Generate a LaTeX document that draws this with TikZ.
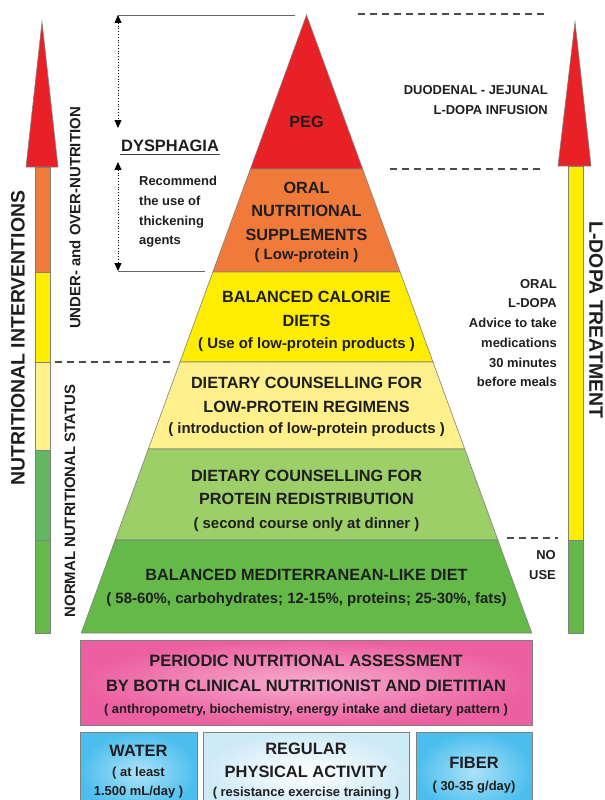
\documentclass[tikz,border=0pt]{standalone}
\usepackage{fontspec}
\setmainfont{Liberation Sans}
\usetikzlibrary{arrows.meta}

\definecolor{pegred}{RGB}{232,33,39}
\definecolor{supporange}{RGB}{240,122,58}
\definecolor{calyellow}{RGB}{255,237,0}
\definecolor{lowyellow}{RGB}{255,240,140}
\definecolor{redgreen}{RGB}{157,207,105}
\definecolor{medgreen}{RGB}{100,185,72}
\definecolor{arrowgreen}{RGB}{98,184,98}
\definecolor{pinkdark}{RGB}{236,95,160}
\definecolor{pinklight}{RGB}{247,172,206}
\definecolor{bluedark}{RGB}{75,190,238}
\definecolor{bluelight}{RGB}{172,226,248}
\definecolor{paleblue}{RGB}{205,234,247}
\definecolor{textgray}{RGB}{30,30,30}

\tikzset{
  pyramid/.style={
    every node/.style={text=textgray, inner sep=1pt},
    levelhead/.style={font=\fontsize{16.3}{23.5}\selectfont\bfseries, align=center},
    levelsub/.style={font=\fontsize{15}{17}\selectfont\bfseries},
    sidetext/.style={font=\fontsize{13}{19.8}\selectfont\bfseries},
    vertlabel/.style={font=\fontsize{19.5}{22}\selectfont\bfseries},
    statuslabel/.style={font=\fontsize{15}{18}\selectfont\bfseries, rotate=90},
    sepline/.style={dash pattern=on 7pt off 5pt, line width=1.3pt, black!70},
    outline/.style={draw=black!50, line width=0.6pt},
  }
}

\begin{document}
\begin{tikzpicture}[pyramid, x=1bp, y=-1bp]
  \tikzstyle{bracket}=[dotted, line width=0.8pt, {Triangle[width=7pt,length=8pt]}-{Triangle[width=7pt,length=8pt]}]
  \clip (0,0) rectangle (605,800);

  \foreach \ya/\yb/\col in {15/169/pegred, 169/272/supporange, 272/362/calyellow,
                            362/449/lowyellow, 449/540/redgreen, 540/633/medgreen}
    \filldraw[fill=\col, outline] ({306.5-(\ya-15)*0.3645},\ya) -- ({306.5+(\ya-15)*0.3645},\ya)
      -- ({306.5+(\yb-15)*0.3645},\yb) -- ({306.5-(\yb-15)*0.3645},\yb) -- cycle;

  \foreach \ya/\yb/\col in {167/272/supporange, 272/362/calyellow, 362/450/lowyellow,
                            450/540/arrowgreen, 540/633/medgreen}
    \filldraw[fill=\col, outline] (35,\ya) rectangle (50,\yb);
  \filldraw[fill=pegred, outline] (26,167) -- (42,22) -- (58,167) -- cycle;

  \filldraw[fill=calyellow, outline] (568,166) rectangle (583,540);
  \filldraw[fill=medgreen, outline] (568,540) rectangle (583,633);
  \filldraw[fill=pegred, outline] (558,166) -- (575,22) -- (591,166) -- cycle;

  \draw[sepline] (358,14) -- (547,14);
  \draw[sepline] (390,169) -- (540,169);
  \draw[sepline] (55,362) -- (173,362);
  \draw[sepline] (507,538) -- (558,538);

  \coordinate (dtop) at (118,15);
  \coordinate (dmid1) at (118,128);
  \coordinate (dmid2) at (118,162);
  \coordinate (dbot) at (118,271);
  \coordinate (apexl) at (295,15);
  \coordinate (supl) at (205,271);
  \draw[black!60, line width=0.8pt] (dtop) -- (apexl);
  \draw[black!60, line width=0.8pt] (dbot) -- (supl);
  \draw[bracket] (dtop) -- (dmid1);
  \draw[bracket] (dmid2) -- (dbot);

  \node[anchor=west, font=\fontsize{16.5}{20}\selectfont\bfseries] (dys) at (120,146) {DYSPHAGIA};
  \draw[line width=1.3pt, black!75] ([yshift=-1.5pt]dys.south west) -- ([yshift=-1.5pt]dys.south east);
  \node[sidetext, anchor=west, align=left] (thick) at (138,212) {Recommend\\the use of\\thickening\\agents};

  \node[levelhead] (peg) at (306.5,122) {PEG};
  \node[levelhead] (ons) at (306.5,211) {ORAL\\NUTRITIONAL\\SUPPLEMENTS};
  \node[levelsub] (onssub) at (306.5,256) {( Low-protein )};
  \node[levelhead] (bcd) at (306.5,309) {BALANCED CALORIE\\DIETS};
  \node[levelsub] (bcdsub) at (306.5,345) {( Use of low-protein products )};
  \node[levelhead] (lpr) at (306.5,395) {DIETARY COUNSELLING FOR\\LOW-PROTEIN REGIMENS};
  \node[levelsub] (lprsub) at (306.5,430) {( introduction of low-protein products )};
  \node[levelhead] (prd) at (306.5,487.5) {DIETARY COUNSELLING FOR\\PROTEIN REDISTRIBUTION};
  \node[levelsub] (prdsub) at (306.5,525) {( second course only at dinner )};
  \node[levelhead] (med) at (306.5,575) {BALANCED MEDITERRANEAN-LIKE DIET};
  \node[levelsub] (medsub) at (306.5,600) {( 58-60\%, carbohydrates; 12-15\%, proteins; 25-30\%, fats)};

  \node[sidetext, anchor=east, align=right] (djl) at (549,100) {DUODENAL - JEJUNAL\\L-DOPA INFUSION};
  \node[sidetext, anchor=east, align=right] (oral) at (558,333) {ORAL\\L-DOPA\\Advice to take\\medications\\30 minutes\\before meals};
  \node[sidetext, anchor=east, align=right] (nouse) at (557,565) {NO\\USE};

  \node[vertlabel, rotate=90] (nutint) at (18,338) {NUTRITIONAL INTERVENTIONS};
  \node[statuslabel] (unov) at (75,218) {UNDER- and OVER-NUTRITION};
  \node[statuslabel] (normal) at (70,501) {NORMAL NUTRITIONAL STATUS};
  \node[vertlabel, rotate=-90] (ldopa) at (596,320) {L-DOPA TREATMENT};

  \shadedraw[inner color=pinklight, outer color=pinkdark, outline] (80,640) rectangle (532,725);
  \node[font=\fontsize{16.5}{25}\selectfont\bfseries, align=center] (assess) at (306,673.5)
    {PERIODIC NUTRITIONAL ASSESSMENT\\BY BOTH CLINICAL NUTRITIONIST AND DIETITIAN};
  \node[font=\fontsize{13}{16}\selectfont\bfseries] (assesssub) at (306,710)
    {( anthropometry, biochemistry, energy intake and dietary pattern )};

  \shadedraw[inner color=bluelight, outer color=bluedark, outline] (80,732) rectangle (197,812);
  \shadedraw[inner color=white, outer color=paleblue, outline] (203,732) rectangle (409,812);
  \shadedraw[inner color=bluelight, outer color=bluedark, outline] (416,732) rectangle (532,812);

  \node[font=\fontsize{16.5}{20}\selectfont\bfseries] (water) at (138.5,751) {WATER};
  \node[font=\fontsize{13}{19}\selectfont\bfseries, align=center] (watersub) at (138.5,783) {( at least\\1.500 mL/day )};
  \node[font=\fontsize{16.5}{23}\selectfont\bfseries, align=center] (activity) at (306,760) {REGULAR\\PHYSICAL ACTIVITY};
  \node[font=\fontsize{13}{16}\selectfont\bfseries] (activitysub) at (306,793) {( resistance exercise training )};
  \node[font=\fontsize{16.5}{20}\selectfont\bfseries] (fiber) at (474,763) {FIBER};
  \node[font=\fontsize{13}{16}\selectfont\bfseries] (fibersub) at (474,787) {( 30-35 g/day)};
\end{tikzpicture}
\end{document}
